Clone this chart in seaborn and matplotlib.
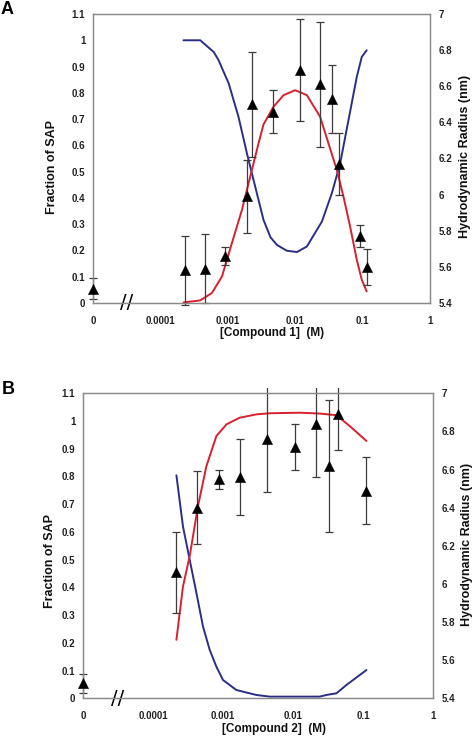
import matplotlib
matplotlib.use("Agg")
import matplotlib.pyplot as plt
import matplotlib.patches as mpatches
import numpy as np
import pandas as pd
import seaborn as sns

sns.set_theme(style="white")
plt.rcParams["font.family"] = ["Liberation Sans", "DejaVu Sans"]
plt.rcParams["font.weight"] = "bold"

# ---------------- data ----------------
x_ticks = [1e-5, 1e-4, 1e-3, 1e-2, 1e-1, 1]
x_tick_labels = ["0", "0.0001", "0.001", "0.01", "0.1", "1"]
frac_ticks = [0, 0.1, 0.2, 0.3, 0.4, 0.5, 0.6, 0.7, 0.8, 0.9, 1.0, 1.1]
frac_tick_labels = ["0", "0.1", "0.2", "0.3", "0.4", "0.5", "0.6", "0.7", "0.8", "0.9", "1", "1.1"]
radius_ticks = [5.4, 5.6, 5.8, 6.0, 6.2, 6.4, 6.6, 6.8, 7.0]
radius_tick_labels = ["5.4", "5.6", "5.8", "6", "6.2", "6.4", "6.6", "6.8", "7"]

# Panel A - Compound 1
a_conc = [1e-5, 2.3e-4, 4.6e-4, 9.2e-4, 1.9e-3, 2.3e-3, 4.7e-3, 0.0116, 0.0234, 0.035, 0.0453, 0.092, 0.115]
a_radius = [5.48, 5.58, 5.59, 5.66, 5.99, 6.50, 6.46, 6.69, 6.61, 6.53, 6.17, 5.77, 5.60]
a_err = [0.06, 0.19, 0.19, 0.05, 0.20, 0.29, 0.12, 0.28, 0.345, 0.19, 0.17, 0.06, 0.10]

a_blue_conc = [2.2e-4, 3.9e-4, 6.2e-4, 7.3e-4, 1.03e-3, 1.44e-3, 1.92e-3, 2.55e-3, 3.39e-3, 4.3e-3,
               5.36e-3, 7.5e-3, 0.0106, 0.0149, 0.0249, 0.035, 0.0465, 0.0617, 0.082, 0.0973, 0.115]
a_blue = [1.0, 1.0, 0.955, 0.924, 0.836, 0.709, 0.57, 0.443, 0.316, 0.25,
          0.221, 0.199, 0.194, 0.215, 0.31, 0.418, 0.532, 0.696, 0.861, 0.937, 0.962]
a_red_conc = [2.2e-4, 3.9e-4, 5.8e-4, 8.2e-4, 1.15e-3, 1.62e-3, 2.15e-3, 2.86e-3, 3.39e-3, 4.77e-3,
              6.71e-3, 0.01, 0.0149, 0.0234, 0.0311, 0.0415, 0.052, 0.0653, 0.082, 0.0973, 0.115]
a_red = [0.002, 0.01, 0.038, 0.101, 0.228, 0.354, 0.481, 0.608, 0.68, 0.747,
         0.791, 0.81, 0.791, 0.709, 0.608, 0.506, 0.405, 0.291, 0.164, 0.088, 0.044]

# Panel B - Compound 2
b_conc = [1e-5, 2.16e-4, 4.3e-4, 8.8e-4, 1.73e-3, 4.26e-3, 0.0106, 0.0216, 0.0327, 0.044, 0.112]
b_radius = [5.48, 6.06, 6.40, 6.55, 6.56, 6.76, 6.72, 6.84, 6.62, 6.89, 6.49]
b_err = [0.05, 0.21, 0.19, 0.05, 0.20, 0.28, 0.12, 0.28, 0.345, 0.19, 0.175]

b_blue_conc = [2.16e-4, 2.68e-4, 3.34e-4, 4.17e-4, 5.18e-4, 6.45e-4, 8.05e-4, 1.0e-3, 1.55e-3, 2.4e-3,
               3.0e-3, 4.65e-3, 0.0125, 0.024, 0.03, 0.0417, 0.058, 0.0805, 0.112]
b_blue = [0.804, 0.62, 0.5, 0.38, 0.259, 0.175, 0.114, 0.066, 0.03, 0.018,
          0.012, 0.006, 0.006, 0.006, 0.012, 0.018, 0.048, 0.075, 0.102]
b_red_conc = [2.16e-4, 2.68e-4, 3.34e-4, 4.39e-4, 5.79e-4, 8.05e-4, 1.12e-3, 1.73e-3, 3.0e-3, 4.65e-3,
              0.0125, 0.024, 0.0417, 0.0645, 0.112]
b_red = [0.211, 0.403, 0.512, 0.693, 0.837, 0.946, 0.988, 1.012, 1.024, 1.028,
         1.03, 1.027, 1.021, 0.982, 0.928]

BLUE = "#2a2f86"
RED = "#d8202e"
SPINE = "#8a8a8a"
ERR = "#3c3c3c"

fig = plt.figure(figsize=(4.74, 7.36), dpi=100)


def panel(rect, conc, radius, err, bconc, bvals, rconc, rvals, xlabel, letter, letter_xy,
          ylab_x, ylab_y, rlab_x, rlab_y, xlab_xy):
    ax = fig.add_axes(rect)
    ax2 = ax.twinx()
    dfb = pd.DataFrame({"c": bconc, "f": bvals})
    dfr = pd.DataFrame({"c": rconc, "f": rvals})
    sns.lineplot(data=dfb, x="c", y="f", ax=ax, color=BLUE, lw=1.4, sort=False)
    sns.lineplot(data=dfr, x="c", y="f", ax=ax, color=RED, lw=1.4, sort=False)

    clip = mpatches.Rectangle((-0.05, -0.018), 1.1, 1.035, transform=ax2.transAxes,
                              facecolor="none", edgecolor="none")
    eb = ax2.errorbar(conc, radius, yerr=err, fmt="none", ecolor=ERR, elinewidth=0.9,
                      capsize=3.2, capthick=0.9)
    for art in list(eb.lines[1]) + list(eb.lines[2]):
        art.set_clip_path(clip)
    dfp = pd.DataFrame({"c": conc, "r": radius})
    sns.scatterplot(data=dfp, x="c", y="r", ax=ax2, marker="^", s=55, color="black",
                    edgecolor="black", linewidth=0.3, zorder=5)
    for coll in ax2.collections:
        if coll not in eb.lines[2]:
            coll.set_clip_on(False)

    for a in (ax, ax2):
        a.set_xscale("log")
        a.set_xlim(1e-5, 1)
        for sp in a.spines.values():
            sp.set_color(SPINE)
            sp.set_linewidth(0.9)
            sp.set_visible(True)
        a.grid(False)
        a.minorticks_off()
    ax.set_ylim(0, 1.1)
    ax2.set_ylim(5.4, 7.0)
    ax.set_xticks(x_ticks)
    ax.set_xticklabels(x_tick_labels)
    ax.set_xticks([], minor=True)
    ax.set_yticks(frac_ticks)
    ax.set_yticklabels(frac_tick_labels)
    ax2.set_yticks(radius_ticks)
    ax2.set_yticklabels(radius_tick_labels)
    ax.tick_params(axis="x", length=0, labelsize=7, pad=9.5)
    ax.tick_params(axis="y", length=0, labelsize=7, pad=5.5)
    ax2.tick_params(axis="y", length=0, labelsize=7, pad=6.5)
    for lab in ax.get_xticklabels() + ax.get_yticklabels() + ax2.get_yticklabels():
        lab.set_fontweight("bold")
        lab.set_color("#222222")

    ax.set_xlabel(xlabel, fontsize=8.5, fontweight="bold", color="#111111")
    ax.xaxis.set_label_coords(*xlab_xy)
    ax.xaxis.label.set_va("center")
    ax.set_ylabel("Fraction of SAP", fontsize=9, fontweight="bold", color="#111111")
    ax.yaxis.set_label_coords(ylab_x, ylab_y)
    ax.yaxis.label.set_va("center")
    ax2.set_ylabel("Hydrodynamic Radius (nm)", fontsize=9, fontweight="bold", color="#111111")
    ax2.yaxis.set_label_coords(rlab_x, rlab_y)
    ax2.yaxis.label.set_va("center")

    ax.text(10 ** -4.5, 0.0, "//", ha="center", va="center", fontsize=14,
            fontweight="normal", family="DejaVu Sans",
            color="black", clip_on=False, zorder=6)
    fig.text(letter_xy[0], letter_xy[1], letter, fontsize=13, fontweight="bold",
             ha="center", va="center", color="black")
    return ax, ax2


panel([93 / 474, (736 - 303) / 736, 337 / 474, 289 / 736],
      a_conc, a_radius, a_err, a_blue_conc, a_blue, a_red_conc, a_red,
      "[Compound 1]  (M)", "A", (7 / 474, 1 - 9 / 736),
      -0.122, 0.469, 1.104, 0.508, (0.531, -0.104))

panel([83 / 474, (736 - 698.3) / 736, 350 / 474, 305 / 736],
      b_conc, b_radius, b_err, b_blue_conc, b_blue, b_red_conc, b_red,
      "[Compound 2]  (M)", "B", (8 / 474, 1 - 389 / 736),
      -0.094, 0.449, 1.097, 0.506, (0.546, -0.10))

fig.savefig("out.png", dpi=100)
